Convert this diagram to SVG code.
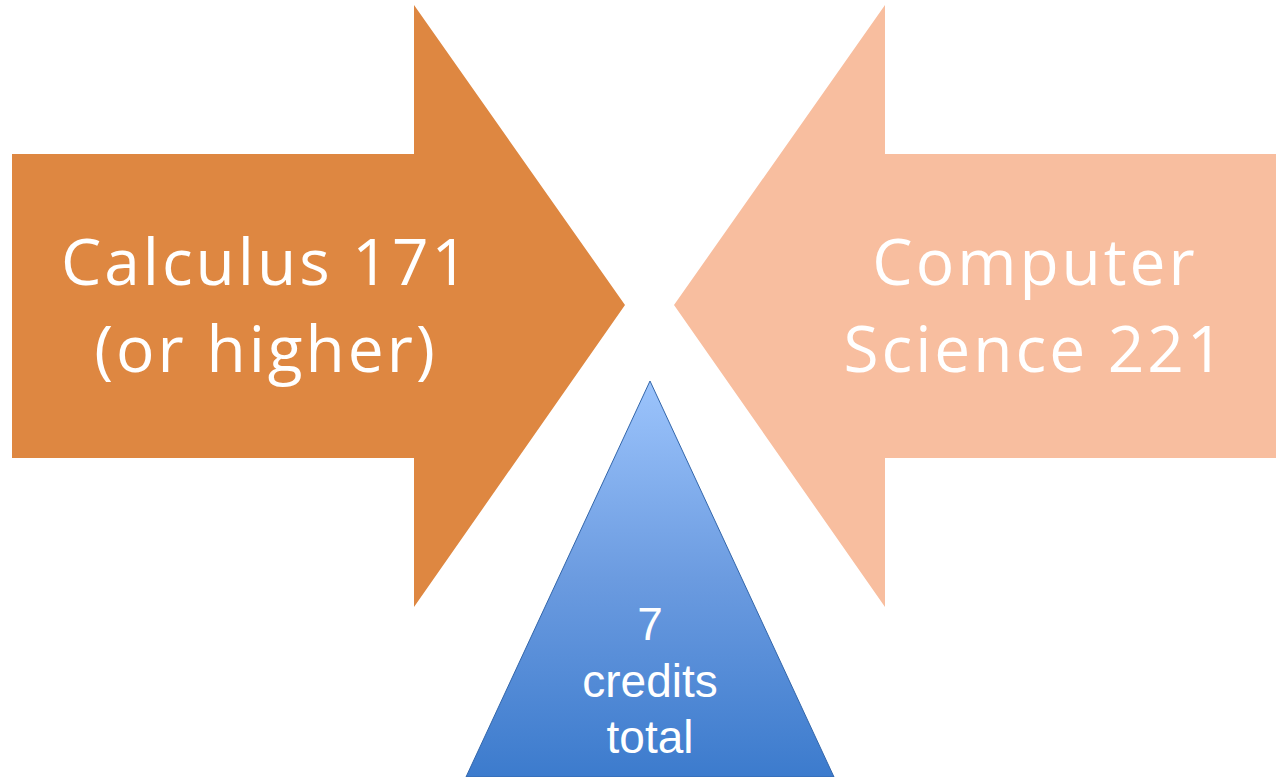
<svg xmlns="http://www.w3.org/2000/svg" width="1276" height="777" viewBox="0 0 1276 777">
<defs>
<linearGradient id="tri" x1="0" y1="0" x2="0" y2="1">
<stop offset="0" stop-color="#9CC4FC"/>
<stop offset="0.5" stop-color="#6B9BE0"/>
<stop offset="1" stop-color="#3C7BCD"/>
</linearGradient>
<style>
.big{font-family:"Open Sans",Lato,sans-serif;font-size:64px;letter-spacing:3px;fill:#fff;text-anchor:middle}
.small{font-family:"Liberation Sans",Arial,sans-serif;font-size:46px;fill:#fff;text-anchor:middle}
</style>
</defs>
<rect width="1276" height="777" fill="#fff"/>
<g id="calculus">
<polygon points="12,154 414,154 414,5 625,305 414,607 414,458 12,458" fill="#DE8741"/>
<text class="big" x="266" y="285">Calculus 171</text>
<text class="big" x="266" y="372">(or higher)</text>
</g>
<g id="cs">
<polygon points="1276,154 885,154 885,5 674,305 885,607 885,458 1276,458" fill="#F8BE9F"/>
<text class="big" x="1035" y="285">Computer</text>
<text class="big" x="1035" y="372">Science 221</text>
</g>
<g id="credits">
<polygon points="650,381 834,777 466,777" fill="url(#tri)" stroke="#3366AA" stroke-width="1"/>
<text class="small" x="650" y="640">7</text>
<text class="small" x="650" y="697">credits</text>
<text class="small" x="650" y="753">total</text>
</g>
<g id="connectors"/>
</svg>
